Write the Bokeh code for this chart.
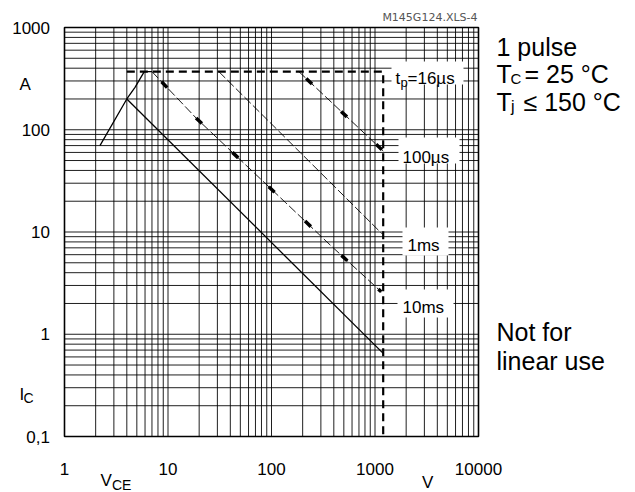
from bokeh.plotting import figure
from bokeh.models import Label, BoxAnnotation, Range1d
from bokeh.core.properties import value
from bokeh.embed import file_html
from bokeh.resources import INLINE

# ---------------- data ----------------
x_ticks = [1, 10, 100, 1000, 10000]
x_tick_labels = ["1", "10", "100", "1000", "10000"]
y_ticks = [0.1, 1, 10, 100, 1000]
y_tick_labels = ["0,1", "1", "10", "100", "1000"]

# t_p = 16 us limit (thick dashed)
tp16_v = [4.0, 1200, 1200]
tp16_i = [370, 370, 0.1]
# t_p = 100 us
tp100_v = [184, 1200]
tp100_i = [370, 62]
# t_p = 1 ms
tp1ms_v = [31, 1170]
tp1ms_i = [370, 9.6]
# t_p = 10 ms
tp10ms_v = [7, 19, 136, 372, 1150]
tp10ms_i = [370, 128, 19.5, 7.4, 2.6]
# on-state limit (rising part)
ron_v = [2.2, 4.0, 4.8, 5.9, 7.0]
ron_i = [70, 200, 260, 370, 370]
# DC line
dc_v = [4.0, 1200]
dc_i = [200, 0.65]

# ---------------- layout ----------------
W, H = 635, 492
L, R, T, B = 64, 478, 27, 436       # plot-area box inside the canvas (pixels)
FONT = "Liberation Sans"
XMIN, XMAX = x_ticks[0], x_ticks[-1]
YMIN, YMAX = y_ticks[0], y_ticks[-1]


def dx(px):
    return 10 ** ((px - L) / (R - L) * 4)


def dy(py):
    return 10 ** ((B - py) / (B - T) * 4 - 1)


p = figure(width=W, height=H, x_axis_type="log", y_axis_type="log",
           x_range=Range1d(dx(0), dx(W)), y_range=Range1d(dy(H), dy(0)),
           x_axis_location=None, y_axis_location=None,
           output_backend="svg", toolbar_location=None, title=None,
           min_border=0)
p.background_fill_color = "white"
p.border_fill_color = "white"
p.outline_line_color = None
p.grid.visible = False

# ---------------- grid ----------------
x_minor = [m * 10 ** k for k in range(0, 4) for m in range(2, 10)]
y_minor = [m * 10 ** k for k in range(-1, 3) for m in range(2, 10)]
xs = x_ticks + x_minor
ys = y_ticks + y_minor
p.segment(x0=xs, y0=[YMIN] * len(xs), x1=xs, y1=[YMAX] * len(xs),
          line_color="black", line_width=1, line_alpha=0.88)
p.segment(x0=[XMIN] * len(ys), y0=ys, x1=[XMAX] * len(ys), y1=ys,
          line_color="black", line_width=1, line_alpha=0.88)
p.quad(left=[XMIN], right=[XMAX], bottom=[YMIN], top=[YMAX],
       fill_color=None, line_color="black", line_width=1.6)

# ---------------- curves ----------------
p.line(tp16_v, tp16_i, line_color="black", line_width=2.2, line_dash="8 5")
p.line(tp100_v, tp100_i, line_color="black", line_width=0.9, line_dash="9 3")
p.line(tp100_v, tp100_i, line_color="black", line_width=3.5, line_dash="8 40", line_dash_offset=-10)
p.line(tp1ms_v, tp1ms_i, line_color="black", line_width=0.9, line_dash="9 3")
p.line(tp10ms_v, tp10ms_i, line_color="black", line_width=0.9, line_dash="9 3")
p.line(tp10ms_v, tp10ms_i, line_color="black", line_width=3.5, line_dash="8 42", line_dash_offset=-14)
p.line(ron_v, ron_i, line_color="black", line_width=1.3)
p.line(dc_v, dc_i, line_color="black", line_width=1.3)

# ---------------- white boxes behind the pulse labels ----------------
for (l, r, t, b) in [(391, 463, 61, 84), (398, 459, 137, 163), (402, 448, 227, 255), (397, 453, 289, 317)]:
    p.add_layout(BoxAnnotation(left=dx(l), right=dx(r), top=dy(t), bottom=dy(b),
                               fill_color="white", fill_alpha=1, line_color=None, level="annotation"))

# ---------------- tick labels ----------------
p.text(x=x_ticks, y=[dy(468.5)] * len(x_ticks), text=x_tick_labels,
       text_font=value(FONT), text_font_size="17px", text_color="black",
       text_align="center", text_baseline="alphabetic")
p.text(x=[dx(49.5)] * len(y_ticks), y=y_ticks, text=y_tick_labels,
       text_font=value(FONT), text_font_size="17px", text_color="black",
       text_align="right", text_baseline="middle")


def lab(px, py, text, size, align="left", color="black", font=FONT):
    p.add_layout(Label(x=dx(px), y=dy(py), text=text, text_font=font,
                       text_font_size=size, text_color=color,
                       text_align=align, text_baseline="alphabetic"))


# pulse labels
lab(395, 77.5, "t", "17px")
lab(400, 81.5, "p", "13px")
lab(407, 77.5, "=16µs", "17px")
lab(402, 156.5, "100µs", "17px")
lab(407, 244.5, "1ms", "17px")
lab(402, 306.5, "10ms", "17px")

# right-side texts
lab(496, 46.7, "1 pulse", "25px")
lab(496, 73.5, "T", "25px")
lab(510, 78, "C", "15px")
lab(524, 73.5, "= 25 °C", "25px")
lab(496, 101.5, "T", "25px")
lab(510.5, 105.5, "j", "16px")
lab(523, 101.5, "≤ 150 °C", "25px")
lab(496, 331.5, "Not for", "25px")
lab(496, 360, "linear use", "25px")

# axis captions
lab(19, 84, "A", "17px")
lab(19, 393.5, "I", "17px")
lab(23, 397, "C", "14px")
lab(100, 480, "V", "17px")
lab(111.5, 484.5, "CE", "14px")
lab(421.5, 481.5, "V", "17px")

# file id
lab(477, 17, "M145G124.XLS-4", "11px", align="right", color="#555555", font="DejaVu Sans")

open("out.html", "w").write(file_html(p, INLINE))
